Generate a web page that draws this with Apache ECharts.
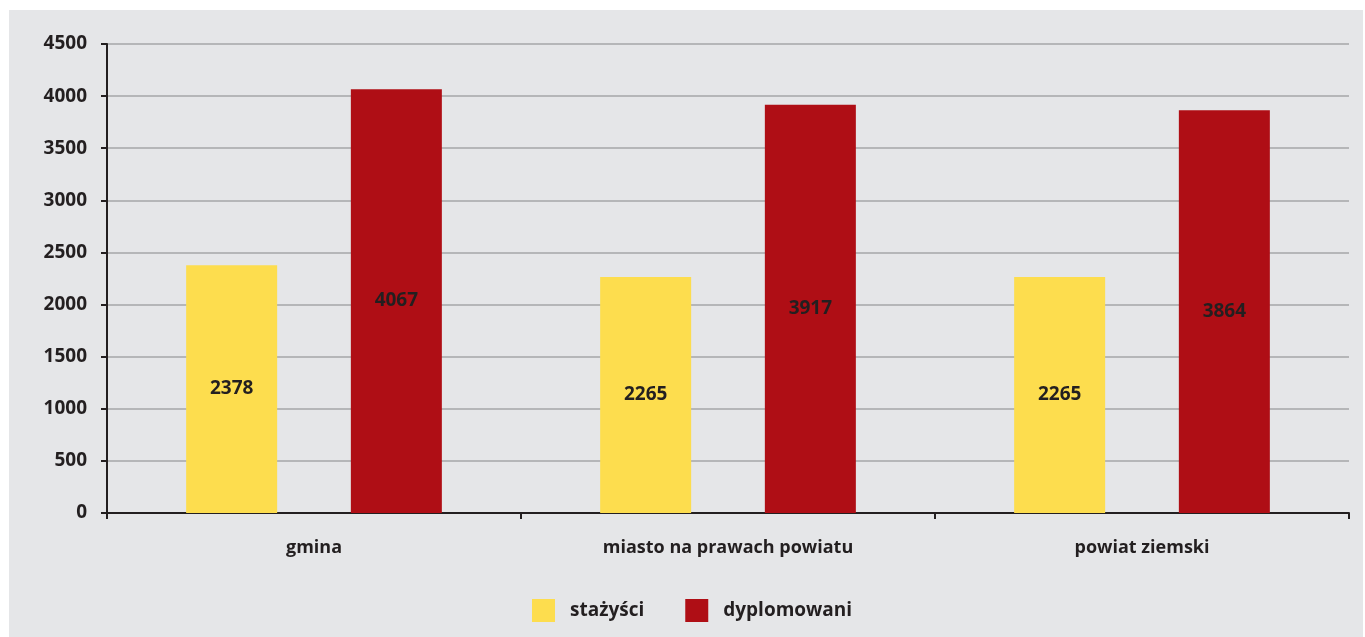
<!DOCTYPE html>
<html><head><meta charset="utf-8">
<script src="https://cdn.jsdelivr.net/npm/echarts@6/dist/echarts.min.js"></script>
<style>html,body{margin:0;padding:0;background:#fff}#c{width:1365px;height:637px}</style>
</head><body><div id="c"></div>
<script>
const categories = ['gmina', 'miasto na prawach powiatu', 'powiat ziemski'];
const stazysci = [2378, 2265, 2265];
const dyplomowani = [4067, 3917, 3864];
const seriesNames = ['stażyści', 'dyplomowani'];

const FONT = '"Open Sans", sans-serif';
const TXT = '#231f20';
const chart = echarts.init(document.getElementById('c'), null, {renderer: 'canvas'});
const labelCfg = {show: true, position: 'inside', color: TXT, fontFamily: FONT, fontWeight: 'bold', fontSize: 19};
chart.setOption({
  backgroundColor: '#ffffff',
  animation: false,
  graphic: [{type: 'rect', z: -10, shape: {x: 9, y: 10, width: 1354, height: 627}, style: {fill: '#e5e6e8'}}],
  grid: {left: 107, right: 16, top: 44, bottom: 124, containLabel: false},
  legend: {
    left: 532, top: 599, padding: 0, itemWidth: 23, itemHeight: 23, itemGap: 41, icon: 'rect',
    textStyle: {color: TXT, fontFamily: FONT, fontWeight: 'bold', fontSize: 19, padding: [0, 0, 0, 10]},
    data: seriesNames
  },
  xAxis: {
    type: 'category', data: categories,
    axisLine: {lineStyle: {color: TXT, width: 2}},
    axisTick: {show: true, length: 6, lineStyle: {color: TXT, width: 2}},
    axisLabel: {color: TXT, fontFamily: FONT, fontWeight: 'bold', fontSize: 18, margin: 26}
  },
  yAxis: {
    type: 'value', min: 0, max: 4500, interval: 500,
    axisLine: {show: true, lineStyle: {color: TXT, width: 2}},
    axisTick: {show: true, length: 6, lineStyle: {color: TXT, width: 2}},
    axisLabel: {color: TXT, fontFamily: FONT, fontWeight: 'bold', fontSize: 19, margin: 20, formatter: v => String(v)},
    splitLine: {lineStyle: {color: '#b5b6b8', width: 2}}
  },
  series: [
    {name: seriesNames[0], type: 'bar', data: stazysci, barWidth: 91, barGap: '81%', itemStyle: {color: '#fddd4e'}, label: labelCfg},
    {name: seriesNames[1], type: 'bar', data: dyplomowani, barWidth: 91, itemStyle: {color: '#af0e15'}, label: labelCfg}
  ]
});
</script></body></html>
